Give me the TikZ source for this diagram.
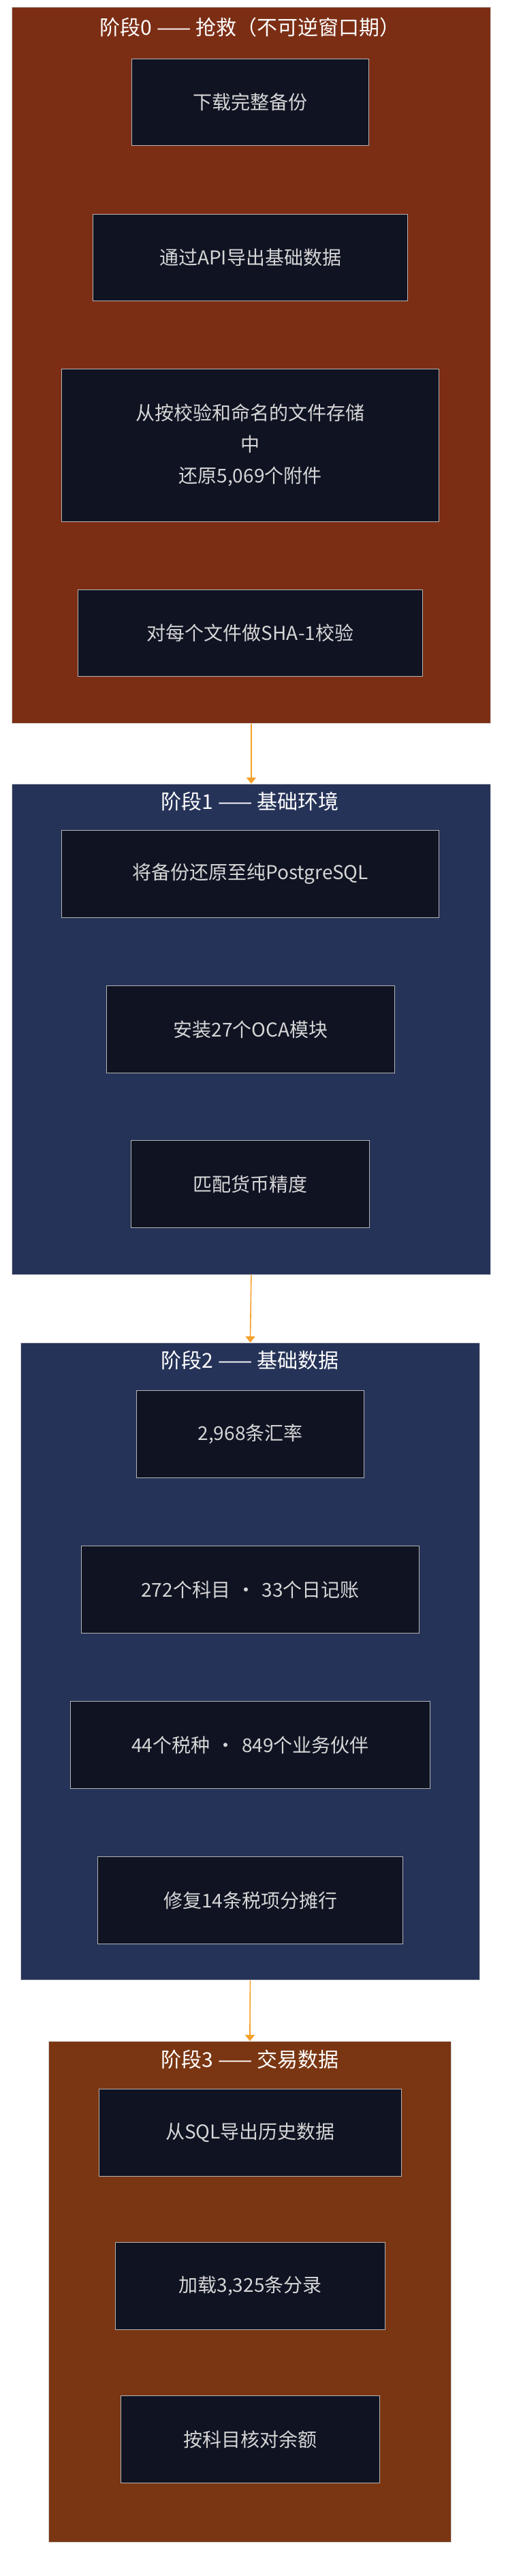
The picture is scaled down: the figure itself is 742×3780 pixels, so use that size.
\documentclass[tikz,border=0pt]{standalone}
\usepackage{fontspec}
\setmainfont{Noto Sans CJK SC}
\usetikzlibrary{arrows.meta}
\definecolor{brownA}{HTML}{7C2E15}
\definecolor{brownB}{HTML}{7A3612}
\definecolor{navy}{HTML}{263358}
\definecolor{nodebg}{HTML}{0F1322}
\definecolor{nodeline}{HTML}{B4B4B4}
\definecolor{txt}{HTML}{D6D6D6}
\definecolor{arr}{HTML}{F5A02A}
\tikzset{
  phase/.style={draw=nodeline!60, line width=0.8pt, inner sep=0, anchor=north west},
  title/.style={text=white, font=\fontsize{30}{34}\selectfont, anchor=center},
  box/.style={draw=nodeline, fill=nodebg, line width=1.2pt, text=txt, font=\fontsize{28}{46}\selectfont, align=center, inner sep=0, anchor=north west},
  flow/.style={draw=arr, line width=1.6pt, -{Triangle[length=9pt,width=14pt]}}
}
\newcommand{\phasebox}[6]{\node[phase, fill=#6, minimum width=#4-#2, minimum height=#5-#3] (#1) at (#2,#3) {};}
\newcommand{\stepbox}[6]{\node[box, minimum width=#4-#2, minimum height=#5-#3, text width=#4-#2] (#1) at (#2,#3) {#6};}
\begin{document}
\begin{tikzpicture}[x=1pt,y=-1pt]
\useasboundingbox (0,0) rectangle (742,3780);
\fill[white] (0,0) rectangle (742,3780);
% phase 0
\phasebox{p0}{17}{10}{720}{1061}{brownA}
\node[title] (t0) at (367,40) {阶段0 —— 抢救（不可逆窗口期）};
\stepbox{a1}{193}{86}{541}{213}{下载完整备份}
\stepbox{a2}{136}{314}{598}{441}{通过API导出基础数据}
\stepbox{a3}{90}{541}{644}{765}{从按校验和命名的文件存储\\中\\还原5,069个附件}
\stepbox{a4}{114}{865}{620}{992}{对每个文件做SHA-1校验}
% phase 1
\phasebox{p1}{17}{1150}{720}{1870}{navy}
\node[title] (t1) at (367,1176) {阶段1 —— 基础环境};
\stepbox{b1}{90}{1218}{644}{1346}{将备份还原至纯PostgreSQL}
\stepbox{b2}{156}{1446}{579}{1574}{安装27个OCA模块}
\stepbox{b3}{192}{1673}{542}{1801}{匹配货币精度}
% phase 2
\phasebox{p2}{30}{1970}{704}{2905}{navy}
\node[title] (t2) at (367,1996) {阶段2 —— 基础数据};
\stepbox{c1}{200}{2040}{534}{2168}{2,968条汇率}
\stepbox{c2}{119}{2268}{615}{2396}{272个科目 · 33个日记账}
\stepbox{c3}{103}{2496}{631}{2624}{44个税种 · 849个业务伙伴}
\stepbox{c4}{143}{2724}{591}{2852}{修复14条税项分摊行}
% phase 3
\phasebox{p3}{71}{2995}{662}{3730}{brownB}
\node[title] (t3) at (367,3022) {阶段3 —— 交易数据};
\stepbox{d1}{145}{3065}{589}{3193}{从SQL导出历史数据}
\stepbox{d2}{169}{3290}{565}{3418}{加载3,325条分录}
\stepbox{d3}{177}{3515}{557}{3643}{按科目核对余额}
% arrows
\draw[flow] (p0.south) -- (p1.north);
\draw[flow] (p1.south) -- (p2.north);
\draw[flow] (p2.south) -- (p3.north);
\end{tikzpicture}
\end{document}
